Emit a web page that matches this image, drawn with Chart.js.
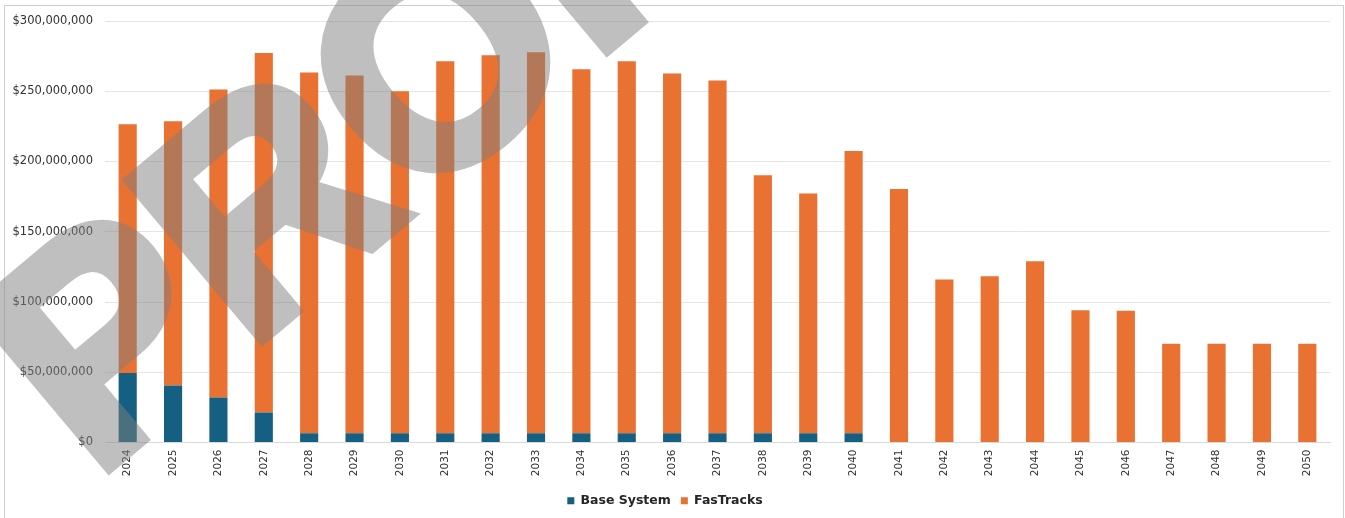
<!DOCTYPE html>
<html>
<head>
<meta charset="utf-8">
<script src="https://cdn.jsdelivr.net/npm/chart.js@4.4.1/dist/chart.umd.min.js"></script>
<style>
  html, body { margin: 0; padding: 0; background: #ffffff; }
  #wrap { position: relative; width: 1345px; height: 518px; }
</style>
</head>
<body>
<div id="wrap"><canvas id="c" width="1345" height="518"></canvas></div>
<script>
const years = ['2024','2025','2026','2027','2028','2029','2030','2031','2032','2033','2034','2035','2036','2037','2038','2039','2040','2041','2042','2043','2044','2045','2046','2047','2048','2049','2050'];

const baseSystem = [49500000, 40500000, 32000000, 21300000, 6500000, 6500000, 6500000, 6500000, 6500000, 6500000, 6500000, 6500000, 6500000, 6500000, 6500000, 6500000, 6500000, 0, 0, 0, 0, 0, 0, 0, 0, 0, 0];

const fasTracks = [177100000, 188200000, 219200000, 255900000, 256900000, 254700000, 243500000, 264800000, 269100000, 271300000, 259100000, 264800000, 256200000, 251200000, 183700000, 170800000, 200900000, 180400000, 116000000, 118400000, 129000000, 94200000, 93800000, 70300000, 70300000, 70300000, 70300000];

const yTicks = [0, 50000000, 100000000, 150000000, 200000000, 250000000, 300000000];

const watermarkText = 'PROPOSED';

const frameAndWatermark = {
  id: 'frameAndWatermark',
  beforeDraw(chart) {
    const ctx = chart.ctx;
    ctx.save();
    ctx.fillStyle = '#ffffff';
    ctx.fillRect(0, 0, chart.width, chart.height);
    ctx.strokeStyle = '#cfcfcf';
    ctx.lineWidth = 1;
    ctx.strokeRect(4.5, 5.5, 1339, 530);
    ctx.restore();
  },
  afterDraw(chart) {
    const off = document.createElement('canvas');
    off.width = chart.width;
    off.height = chart.height;
    const o = off.getContext('2d');
    o.translate(94, 480);
    o.rotate(-40 * Math.PI / 180);
    o.font = 'bold 300px "Liberation Sans", Arial, sans-serif';
    o.textBaseline = 'alphabetic';
    o.textAlign = 'left';
    o.fillStyle = '#808080';
    o.strokeStyle = '#808080';
    o.lineWidth = 12;
    o.lineJoin = 'miter';
    o.fillText(watermarkText, 0, 0);
    o.strokeText(watermarkText, 0, 0);
    const ctx = chart.ctx;
    ctx.save();
    ctx.globalAlpha = 0.5;
    ctx.drawImage(off, 0, 0);
    ctx.restore();
  }
};

new Chart(document.getElementById('c'), {
  type: 'bar',
  data: {
    labels: years,
    datasets: [
      { label: 'Base System', data: baseSystem, backgroundColor: '#156082', borderWidth: 0 },
      { label: 'FasTracks', data: fasTracks, backgroundColor: '#E97132', borderWidth: 0 }
    ]
  },
  options: {
    responsive: false,
    animation: false,
    layout: { padding: { left: 0, right: 15, top: 21, bottom: 1 } },
    datasets: { bar: { categoryPercentage: 1.0, barPercentage: 0.4 } },
    scales: {
      x: {
        stacked: true,
        grid: { display: false, drawTicks: false },
        border: { display: true, color: '#d9d9d9', width: 1 },
        ticks: {
          color: '#333333',
          font: { family: '"DejaVu Sans", Verdana, sans-serif', size: 10.5 },
          minRotation: 90, maxRotation: 90, padding: 7, autoSkip: false
        },
        afterFit(scale) { scale.height = 42; }
      },
      y: {
        stacked: true,
        min: 0, max: 300000000,
        afterBuildTicks(scale) { scale.ticks = yTicks.map(v => ({ value: v })); },
        grid: { color: '#e4e4e4', drawTicks: false },
        border: { display: false },
        ticks: {
          color: '#333333',
          font: { family: '"DejaVu Sans", Verdana, sans-serif', size: 11.5 },
          padding: 12,
          callback: v => '$' + Number(v).toLocaleString('en-US')
        },
        afterFit(scale) { scale.width = 105; }
      }
    },
    plugins: {
      tooltip: { enabled: false },
      legend: {
        position: 'bottom',
        labels: {
          boxWidth: 7, boxHeight: 7, padding: 10,
          color: '#262626',
          font: { family: '"DejaVu Sans", Verdana, sans-serif', size: 12.5, weight: 'bold' }
        }
      }
    }
  },
  plugins: [frameAndWatermark]
});
</script>
</body>
</html>
